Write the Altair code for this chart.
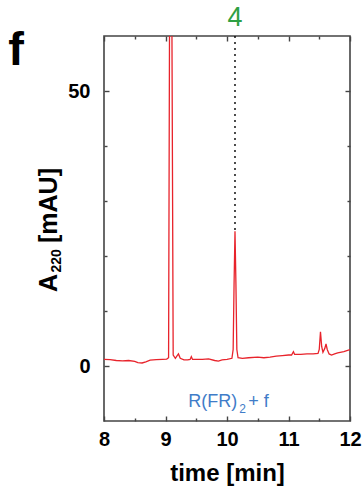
import altair as alt
import pandas as pd

# ---- data ----
time_min = [8.00, 8.10, 8.20, 8.30, 8.40, 8.50, 8.55, 8.62, 8.68, 8.75, 8.85, 8.95,
            9.02, 9.05, 9.065, 9.085, 9.105, 9.125, 9.16, 9.19, 9.21, 9.24, 9.30, 9.36,
            9.40, 9.42, 9.44, 9.50, 9.60, 9.70, 9.80, 9.86, 9.92, 10.00, 10.08, 10.10,
            10.115, 10.13, 10.145, 10.16, 10.18, 10.25, 10.35, 10.50, 10.60, 10.70, 10.80,
            10.90, 11.00, 11.05, 11.08, 11.10, 11.20, 11.30, 11.40, 11.48, 11.50, 11.52,
            11.54, 11.56, 11.59, 11.61, 11.63, 11.66, 11.70, 11.75, 11.80, 11.90, 12.00]
absorbance = [1.2, 1.15, 1.0, 0.95, 1.0, 0.85, 0.6, 0.55, 0.75, 1.05, 1.15, 1.2,
              1.25, 1.5, 60.0, 300.0, 60.0, 2.0, 1.4, 1.9, 2.2, 1.4, 1.1, 1.1,
              1.2, 1.7, 1.2, 1.2, 1.2, 1.3, 1.0, 0.9, 1.1, 1.2, 1.4, 3.0,
              15.0, 24.5, 15.0, 3.0, 1.5, 1.4, 1.5, 1.6, 1.5, 1.6, 1.8,
              1.9, 2.0, 2.0, 2.6, 2.1, 2.1, 2.2, 2.2, 2.3, 3.0, 6.2,
              3.5, 2.5, 3.2, 4.0, 3.0, 2.2, 2.0, 2.2, 2.4, 2.6, 3.0]

peak_time = [10.13]
peak_top = [24.5]
axis_top = [60]
peak_label = ["4"]

sample_time = [10.02]
sample_y = [-6.4]
sample_main = ["R(FR)"]
sample_sub = ["2"]
sample_tail = ["+ f"]

ytitle_main = "A"
ytitle_sub = "220"
ytitle_unit = "[mAU]"
panel_letter = "f"

x_ticks_major = [8, 9, 10, 11, 12]
x_ticks_minor = [8.5, 9.5, 10.5, 11.5]
y_ticks_major = [0, 50]
y_ticks_minor = [10, 20, 30, 40]

x_domain = [8, 12]
y_domain = [-10, 60]

trace_df = pd.DataFrame({"time": time_min, "abs": absorbance})
marker_df = pd.DataFrame({"t": peak_time, "peak": peak_top, "top": axis_top, "label": peak_label})
sample_df = pd.DataFrame({"t": sample_time, "y": sample_y, "main": sample_main,
                          "sub": sample_sub, "tail": sample_tail})

FONT = "Liberation Sans"
TICK = "#444444"
BLUE = "#3f7cc8"

xs = alt.Scale(domain=x_domain, nice=False, zero=False)
ys = alt.Scale(domain=y_domain, nice=False, zero=False)


def axis(orient, values, size, labels=False, title=None, **kw):
    return alt.Axis(orient=orient, values=values, tickSize=size, offset=-size,
                    domain=False, grid=False, labels=labels, title=title,
                    tickColor=TICK, tickWidth=1.4, labelFlush=False, **kw)


ax_bottom_major = axis("bottom", x_ticks_major, 5, labels=True, title="time [min]",
                       labelPadding=8, labelFont=FONT, labelFontSize=20,
                       labelFontWeight="bold", labelColor="black", format="d",
                       titleFont=FONT, titleFontSize=24, titleFontWeight="bold",
                       titleColor="black", titlePadding=12)
ax_bottom_minor = axis("bottom", x_ticks_minor, 3)
ax_top_major = axis("top", x_ticks_major, 5)
ax_top_minor = axis("top", x_ticks_minor, 3)
ax_left_major = axis("left", y_ticks_major, 5, labels=True,
                     labelPadding=14, labelFont=FONT, labelFontSize=20,
                     labelFontWeight="bold", labelColor="black", format="d")
ax_left_minor = axis("left", y_ticks_minor, 3)
ax_right_major = axis("right", y_ticks_major, 5)
ax_right_minor = axis("right", y_ticks_minor, 3)

trace = alt.Chart(trace_df).mark_line(color="#e8232b", strokeWidth=1.3, clip=True).encode(
    x=alt.X("time:Q", scale=xs, axis=ax_bottom_major),
    y=alt.Y("abs:Q", scale=ys, axis=ax_left_major),
)

marker = alt.Chart(marker_df).mark_rule(color="black", strokeDash=[2, 4], strokeWidth=1.4).encode(
    x=alt.X("t:Q", scale=xs, axis=ax_bottom_minor),
    y=alt.Y("top:Q", scale=ys, axis=ax_left_minor),
    y2="peak:Q",
)

label4 = alt.Chart(marker_df).mark_text(color="#2ea043", font=FONT, fontSize=27,
                                        baseline="middle", dy=-18.5).encode(
    x=alt.X("t:Q", scale=xs, axis=ax_top_major),
    y=alt.Y("top:Q", scale=ys, axis=ax_right_major),
    text="label:N",
)

sample_a = alt.Chart(sample_df).mark_text(color=BLUE, font=FONT, fontSize=18,
                                          baseline="alphabetic", align="right", dx=9, dy=6).encode(
    x=alt.X("t:Q", scale=xs, axis=ax_top_minor),
    y=alt.Y("y:Q", scale=ys, axis=ax_right_minor),
    text="main:N",
)
sample_b = alt.Chart(sample_df).mark_text(color=BLUE, font=FONT, fontSize=12,
                                          baseline="alphabetic", align="left", dx=11, dy=12).encode(
    x=alt.X("t:Q", scale=xs, axis=None),
    y=alt.Y("y:Q", scale=ys, axis=None),
    text="sub:N",
)
sample_c = alt.Chart(sample_df).mark_text(color=BLUE, font=FONT, fontSize=18,
                                          baseline="alphabetic", align="left", dx=20, dy=6).encode(
    x=alt.X("t:Q", scale=xs, axis=None),
    y=alt.Y("y:Q", scale=ys, axis=None),
    text="tail:N",
)

# y-axis title built from pieces so the subscript sits low
title_style = dict(font=FONT, fontWeight="bold", color="black", angle=270,
                   align="left", baseline="alphabetic")
yt_a = alt.Chart(sample_df).mark_text(text=ytitle_main, fontSize=25, **title_style).encode(
    x=alt.value(-47), y=alt.value(256))
yt_b = alt.Chart(sample_df).mark_text(text=ytitle_sub, fontSize=14, **title_style).encode(
    x=alt.value(-43.3), y=alt.value(236.5))
yt_c = alt.Chart(sample_df).mark_text(text=ytitle_unit, fontSize=25, **title_style).encode(
    x=alt.value(-47), y=alt.value(207))

panel = alt.Chart(sample_df).mark_text(text=panel_letter, font=FONT, fontSize=47, fontWeight="bold",
                                       color="black", baseline="alphabetic", align="center").encode(
    x=alt.value(-88), y=alt.value(29)
)

chart = alt.layer(trace, marker, label4, sample_a, sample_b, sample_c,
                  yt_a, yt_b, yt_c, panel).resolve_axis(
    x="independent", y="independent"
).properties(
    width=246, height=385,
    autosize=alt.AutoSizeParams(type="none"),
    padding={"left": 104, "top": 36, "right": 14, "bottom": 73},
    background="white",
).configure_view(stroke="#444444", strokeWidth=1.6)

chart.save("out.html", embed_options={"renderer": "svg", "actions": False})
